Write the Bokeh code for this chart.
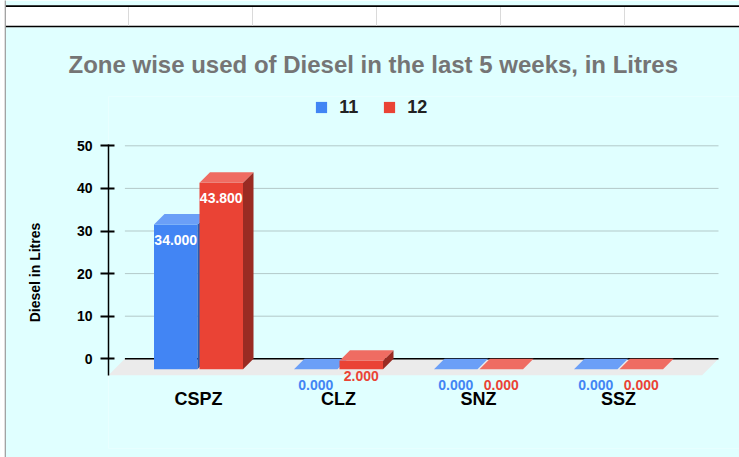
from bokeh.plotting import figure
from bokeh.models import Range1d, FixedTicker, Legend, LegendItem, Label
from bokeh.core.properties import value
from bokeh.embed import file_html
from bokeh.resources import INLINE

# ---------------- data ----------------
categories = ["CSPZ", "CLZ", "SNZ", "SSZ"]
series_names = ["11", "12"]
values_11 = [34.0, 0.0, 0.0, 0.0]
values_12 = [43.8, 2.0, 0.0, 0.0]
y_ticks = [0, 10, 20, 30, 40, 50]

title_text = "Zone wise used of Diesel in the last 5 weeks, in Litres"
x_title = "Zone Name"
y_title = "Diesel in Litres"

# ---------------- style / layout (pixels) ----------------
BG = "#E0FFFF"
FONT = "Liberation Sans"
COLORS = {  # front, top, side
    "11": ("#4285F4", "#6B9FF7", "#2B5CB0"),
    "12": ("#EA4335", "#EF6C62", "#9A2B23"),
}
W, H = 739, 457
F_LEFT, F_TOP, F_BOTTOM = 108, 96, 448
AXIS_Y_PX = 388            # where the category labels hang from
CAT_PX, CAT0_PX = 140.0, 198.0
ZERO_PX, TOP_TICK_PX = 358.3, 145.3
PXY = (ZERO_PX - TOP_TICK_PX) / max(y_ticks)
BAR_W_PX, GAP_PX, BAR_D_PX = 43.5, 2.0, 10.5
FLOOR_D_PX = 16.4
CHART_R_PX = 718.0
LABEL_DROP_PX = 15.5

x0 = -(CAT0_PX - F_LEFT) / CAT_PX
x1 = x0 + (W - F_LEFT) / CAT_PX
y0 = -(F_BOTTOM - ZERO_PX) / PXY
y1 = (ZERO_PX - F_TOP) / PXY


def X(px):
    return x0 + (px - F_LEFT) / CAT_PX


def Y(py):
    return (ZERO_PX - py) / PXY


p = figure(width=W, height=H, x_range=Range1d(x0, x1), y_range=Range1d(y0, y1),
           output_backend="svg", toolbar_location=None,
           min_border_left=F_LEFT, min_border_right=0, min_border_top=F_TOP,
           min_border_bottom=H - F_BOTTOM,
           background_fill_color=BG, border_fill_color=BG, outline_line_color=None)
p.xgrid.visible = False
p.ygrid.visible = False

# title
p.title.text = title_text
p.title.align = "left"
p.title.offset = -40
p.title.standoff = 38
p.title.text_font = FONT
p.title.text_font_size = "24px"
p.title.text_font_style = "bold"
p.title.text_color = "#757575"

# depth conversions
fdx, fdy = FLOOR_D_PX / CAT_PX, FLOOR_D_PX / PXY
bdx, bdy = BAR_D_PX / CAT_PX, BAR_D_PX / PXY
bw = BAR_W_PX / CAT_PX
off = (GAP_PX / 2 + BAR_W_PX / 2) / CAT_PX
chart_r = X(CHART_R_PX)

# gridlines on the back wall
grid_ticks = [t for t in y_ticks if t != 0]
p.segment(x0=[x0 + fdx] * len(grid_ticks), y0=grid_ticks,
          x1=[chart_r] * len(grid_ticks), y1=grid_ticks,
          line_color="#B3C9C9", line_width=1)
# floor
p.patch(x=[x0, x0 + fdx, chart_r, chart_r - fdx], y=[-fdy, 0, 0, -fdy],
        fill_color="#EBEBEB", line_color=None)
# baseline
p.segment(x0=[x0 + fdx], y0=[0], x1=[chart_r], y1=[0], line_color="black", line_width=1.5)

legend_items = []
for name, vals, sign in [("11", values_11, -1), ("12", values_12, 1)]:
    front, topc, sidec = COLORS[name]
    xl = [i + sign * off - bw / 2 for i in range(len(categories))]
    xr = [x + bw for x in xl]
    fr = p.quad(left=xl, right=xr, bottom=[-bdy] * len(vals), top=[v - bdy for v in vals],
                fill_color=front, line_color=None)
    p.patches(xs=[[r, r + bdx, r + bdx, r] for r in xr],
              ys=[[v - bdy, v, 0, -bdy] for v in vals],
              fill_color=sidec, line_color=None)
    p.patches(xs=[[l, r, r + bdx, l + bdx] for l, r in zip(xl, xr)],
              ys=[[v - bdy, v - bdy, v, v] for v in vals],
              fill_color=topc, line_color=None)
    legend_items.append(LegendItem(label=name, renderers=[fr]))
    # value labels: white on the bar face, series colour when they fall below it
    tr = p.text(x=[(l + r) / 2 for l, r in zip(xl, xr)], y=[v - bdy for v in vals],
                text=[f"{v:.3f}" for v in vals], y_offset=LABEL_DROP_PX,
                text_align="center", text_baseline="middle",
                text_font=value(FONT), text_font_size="14px", text_font_style="bold",
                text_color=["white" if v * PXY > 2 * LABEL_DROP_PX else front for v in vals])
    tr.level = "overlay"

# legend
legend = Legend(items=legend_items, orientation="horizontal",
                location=(314.3 - F_LEFT, F_BOTTOM - 117.7),
                glyph_width=14, glyph_height=14, label_standoff=11, spacing=23,
                padding=0, margin=0, border_line_color=None, background_fill_alpha=0,
                label_text_font=FONT, label_text_font_size="18px", label_text_font_style="bold",
                label_text_color="#222222")
p.add_layout(legend)

# y axis
ya = p.yaxis[0]
ya.ticker = FixedTicker(ticks=y_ticks)
ya.bounds = (-fdy, max(y_ticks) + 1 / PXY)
ya.axis_line_width = 1.5
ya.axis_line_color = "black"
ya.major_tick_out = 8
ya.major_tick_in = 6
ya.major_tick_line_width = 2
ya.minor_tick_line_color = None
ya.major_label_standoff = 8
ya.major_label_text_font = FONT
ya.major_label_text_font_size = "14px"
ya.major_label_text_font_style = "bold"
ya.major_label_text_color = "black"
ya.axis_label = y_title
ya.axis_label_text_font = FONT
ya.axis_label_text_font_size = "14px"
ya.axis_label_text_font_style = "bold"
ya.axis_label_text_color = "black"
ya.axis_label_standoff = 31

# x axis (category labels hang just below the floor)
xa = p.xaxis[0]
xa.fixed_location = Y(AXIS_Y_PX)
xa.ticker = FixedTicker(ticks=list(range(len(categories))))
xa.major_label_overrides = {i: c for i, c in enumerate(categories)}
xa.axis_line_color = None
xa.major_tick_line_color = None
xa.minor_tick_line_color = None
xa.major_tick_out = 0
xa.major_tick_in = 0
xa.major_label_standoff = 0
xa.major_label_text_font = FONT
xa.major_label_text_font_size = "18px"
xa.major_label_text_font_style = "bold"
xa.major_label_text_color = "black"

# x axis title (partly below the visible area, as in the original)
p.add_layout(Label(x=(x0 + chart_r) / 2, y=Y(461.6), text=x_title,
                   text_align="center", text_baseline="alphabetic",
                   text_font=FONT, text_font_size="20px", text_font_style="bold",
                   text_color="black"))

# spreadsheet row above the chart and sheet border on the left
CELL_EDGES_PX = [128, 252, 376, 500, 624]
deco = []
deco.append(p.quad(left=[X(5)], right=[X(W)], top=[Y(5)], bottom=[Y(26.7)],
                   fill_color="white", line_color=None))
deco.append(p.quad(left=[X(5), X(5)], right=[X(W), X(W)], top=[Y(4.8), Y(25.2)],
                   bottom=[Y(6.6), Y(26.8)], fill_color="black", line_color=None))
deco.append(p.segment(x0=[X(e) for e in CELL_EDGES_PX], y0=[Y(6.6)] * len(CELL_EDGES_PX),
                      x1=[X(e) for e in CELL_EDGES_PX], y1=[Y(25.2)] * len(CELL_EDGES_PX),
                      line_color="#DADADA", line_width=1))
deco.append(p.quad(left=[X(0)], right=[X(4.5)], top=[Y(0)], bottom=[Y(H)],
                   fill_color="white", line_color=None))
deco.append(p.segment(x0=[X(4.8)], y0=[Y(0)], x1=[X(4.8)], y1=[Y(H)],
                      line_color="#9A9A9A", line_width=1.2))
for r in deco:
    r.level = "overlay"

open("out.html", "w").write(file_html(p, INLINE))
